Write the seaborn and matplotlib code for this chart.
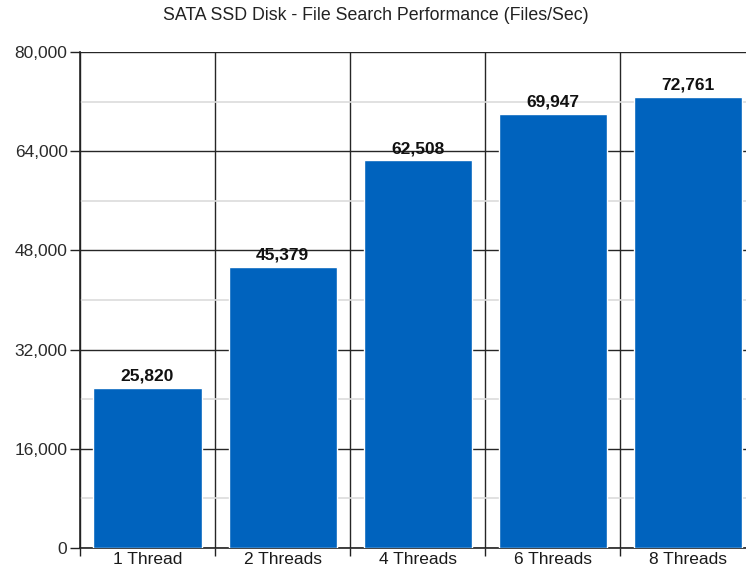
import seaborn as sns
import matplotlib.pyplot as plt
from matplotlib.ticker import FuncFormatter, MultipleLocator
import pandas as pd

sns.set_style("white")
plt.rcParams['font.family'] = ['Liberation Sans', 'DejaVu Sans']

# data
threads = ['1 Thread', '2 Threads', '4 Threads', '6 Threads', '8 Threads']
files_per_sec = [25820, 45379, 62508, 69947, 72761]
y_ticks = [0, 16000, 32000, 48000, 64000, 80000]

df = pd.DataFrame({'threads': threads, 'fps': files_per_sec})

fig = plt.figure(figsize=(7.46, 5.73), dpi=100)
ax = fig.add_axes([80 / 746, 25 / 573, 675 / 746, 496 / 573])

sns.barplot(data=df, x='threads', y='fps', order=threads, color='#0063BE',
            saturation=1, width=0.8, ax=ax, zorder=3)

ax.set_xlim(-0.5, 4.5)
ax.set_ylim(0, 80000)
ax.set_yticks(y_ticks)
ax.yaxis.set_minor_locator(MultipleLocator(8000))
ax.xaxis.set_minor_locator(MultipleLocator(1, offset=0.5))
ax.yaxis.set_major_formatter(FuncFormatter(lambda v, p: f'{int(v):,}'))

# grid: dark lines at majors / category edges, pale at half steps
ax.grid(which='major', axis='y', color='#262626', lw=1, zorder=0)
ax.grid(which='minor', axis='y', color='#dcdcdc', lw=1.2, zorder=0)
ax.grid(which='minor', axis='x', color='#262626', lw=1, zorder=0)

ax.tick_params(axis='x', which='major', length=0, labelsize=12.5, pad=3,
               labelcolor='#1a1a1a')
ax.tick_params(axis='x', which='minor', length=6, width=1, color='#222222',
               direction='out', bottom=True)
ax.tick_params(axis='y', which='major', length=7, width=1, color='#222222',
               direction='out', left=True, labelsize=12.5, pad=2,
               labelcolor='#2a2a2a')
ax.tick_params(axis='y', which='minor', length=0)

for s in ['top', 'right']:
    ax.spines[s].set_visible(False)
for s in ['left', 'bottom']:
    ax.spines[s].set_color('#222222')
    ax.spines[s].set_linewidth(1.2)

ax.set_xlabel('')
ax.set_ylabel('')

for i, v in enumerate(files_per_sec):
    ax.text(i, v + 700, f'{v:,}', ha='center', va='bottom',
            fontsize=12.5, fontweight='bold', color='#111111', zorder=4)

fig.text(376 / 746, 1 - 16 / 573, 'SATA SSD Disk - File Search Performance (Files/Sec)',
         ha='center', va='center', fontsize=12.8, color='#222222')

fig.savefig('out.png', dpi=100)
